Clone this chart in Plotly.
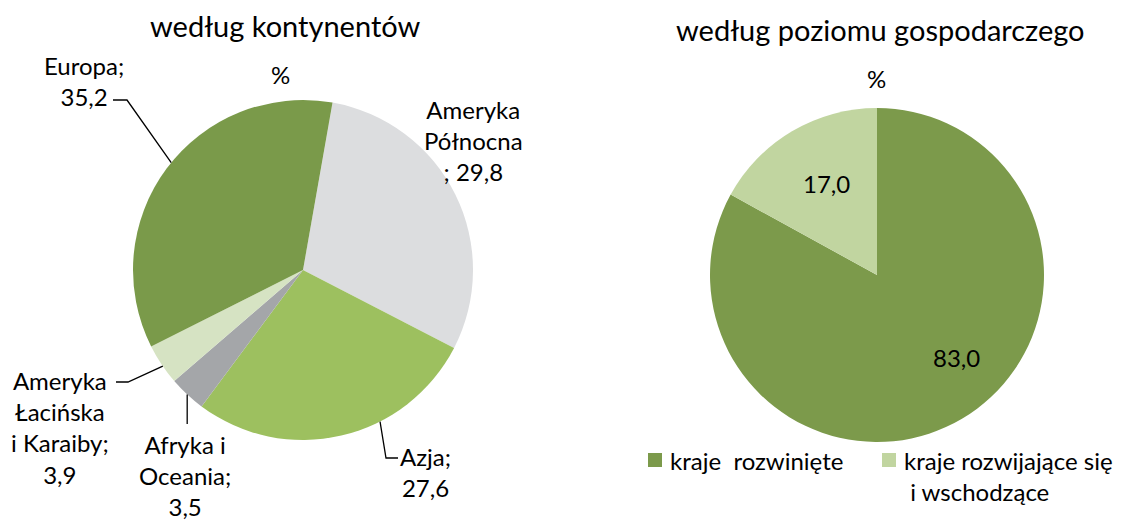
import math
import plotly.graph_objects as go

# ---- data ----
cont_labels = ["Ameryka Północna", "Azja", "Afryka i Oceania", "Ameryka Łacińska i Karaiby", "Europa"]
cont_values = [29.8, 27.6, 3.5, 3.9, 35.2]
cont_colors = ["#DCDDDF", "#9DC05F", "#A4A6A9", "#D6E3C3", "#7A9A4A"]
cont_text = ["Ameryka<br>Północna<br>; 29,8", "Azja;<br>27,6", "Afryka i<br>Oceania;<br>3,5",
             "Ameryka<br>Łacińska<br>i Karaiby;<br>3,9", "Europa;<br>35,2"]

eco_labels = ["kraje\u00a0 rozwinięte", "kraje rozwijające się<br>\u00a0i wschodzące"]
eco_values = [83.0, 17.0]
eco_colors = ["#7C9A4B", "#C1D5A0"]

W, H = 1125, 523
OFF = 8  # page body margin
FONT = "Lato, Carlito, Open Sans, sans-serif"

def fx_(x):
    return (x - OFF) / W

def fy_(y):
    return 1 - (y - OFF) / H

fig = go.Figure()

# left pie geometry (pixels)
L_CX, L_CY, L_R = 303, 270, 170
L_ROT = 10
fig.add_trace(go.Pie(
    labels=cont_labels, values=cont_values, sort=False, direction="clockwise",
    rotation=L_ROT, marker=dict(colors=cont_colors, line=dict(width=0)),
    textinfo="none", hoverinfo="label+value", showlegend=False,
    domain=dict(x=[fx_(L_CX - L_R), fx_(L_CX + L_R)],
                y=[fy_(L_CY + L_R), fy_(L_CY - L_R)]),
))

R_CX, R_CY, R_R = 877, 275, 167
fig.add_trace(go.Pie(
    labels=eco_labels, values=eco_values, sort=False, direction="clockwise",
    rotation=0, marker=dict(colors=eco_colors, line=dict(width=0)),
    textinfo="none", hoverinfo="label+value", showlegend=False,
    domain=dict(x=[fx_(R_CX - R_R), fx_(R_CX + R_R)],
                y=[fy_(R_CY + R_R), fy_(R_CY - R_R)]),
))

annotations = []
# titles
for (tx, ty, t, s) in [(285, 25, "według kontynentów", 29), (880, 30, "według poziomu gospodarczego", 29),
                       (280, 75, "%", 24), (876, 78, "%", 24)]:
    annotations.append(dict(x=fx_(tx), y=fy_(ty), xref="paper", yref="paper", text=t, showarrow=False,
                            font=dict(size=s, family=FONT, color="#000"),
                            xanchor="center", yanchor="middle"))

# left labels (centre positions, px)
label_pos = [(473, 140), (426, 472), (185, 475), (60, 427), (84, 81)]
for (lx, ly), t in zip(label_pos, cont_text):
    annotations.append(dict(x=fx_(lx), y=fy_(ly), xref="paper", yref="paper", text=t, showarrow=False,
                            font=dict(size=24, family=FONT, color="#000"), align="center",
                            xanchor="center", yanchor="middle"))

# right pie value labels
eco_pos = [(957, 357), (826, 183)]
for (lx, ly), v in zip(eco_pos, eco_values):
    annotations.append(dict(x=fx_(lx), y=fy_(ly), xref="paper", yref="paper",
                            text=f"{v:.1f}".replace(".", ","), showarrow=False,
                            font=dict(size=24, family=FONT, color="#000"),
                            xanchor="center", yanchor="middle"))

shapes = []
# manual legend for right pie
leg_pos = [(648, 460), (882, 460)]
for (sx, sy), lab, col in zip(leg_pos, eco_labels, eco_colors):
    shapes.append(dict(type="rect", xref="paper", yref="paper",
                       x0=fx_(sx), x1=fx_(sx + 14), y0=fy_(sy + 7), y1=fy_(sy - 7),
                       fillcolor=col, line=dict(width=0)))
    annotations.append(dict(x=fx_(sx + 20), y=fy_(sy - 16), xref="paper", yref="paper",
                            text=lab, showarrow=False, align="left",
                            font=dict(size=24, family=FONT, color="#000"),
                            xanchor="left", yanchor="top"))

# leader lines: from pie edge (computed from slice angles) to an elbow, then a short horizontal
def edge_point(frac_angle_deg, rr=1.0):
    a = math.radians(frac_angle_deg)
    return L_CX + L_R * rr * math.sin(a), L_CY - L_R * rr * math.cos(a)

cum = [0]
for v in cont_values:
    cum.append(cum[-1] + v)
tot = cum[-1]

def slice_angle(i, f):
    return L_ROT + 360 * (cum[i] + f * cont_values[i]) / tot

ex, ey = edge_point(slice_angle(4, 0.52))
pts_eu = [(ex, ey), (127, 100), (113, 100)]
ax_, ay_ = edge_point(slice_angle(1, 0.36))
pts_azja = [(ax_, ay_), (386, 458), (398, 458)]
afx, afy = edge_point(slice_angle(2, 0.5))
pts_afr = [(afx, afy), (afx, 424)]
lx_, ly_ = edge_point(slice_angle(3, 0.45))
pts_lat = [(lx_, ly_), (128, 382), (116, 382)]
for p in [pts_eu, pts_azja, pts_afr, pts_lat]:
    path = "M " + " L ".join(f"{fx_(x):.5f},{fy_(y):.5f}" for x, y in p)
    shapes.append(dict(type="path", path=path, xref="paper", yref="paper",
                       line=dict(color="#000", width=1.3)))

fig.update_layout(
    width=W, height=H, margin=dict(l=0, r=0, t=0, b=0),
    paper_bgcolor="white", plot_bgcolor="white",
    font=dict(family=FONT, size=24, color="#000"),
    annotations=annotations, shapes=shapes, showlegend=False,
)

fig.write_html("out.html")
